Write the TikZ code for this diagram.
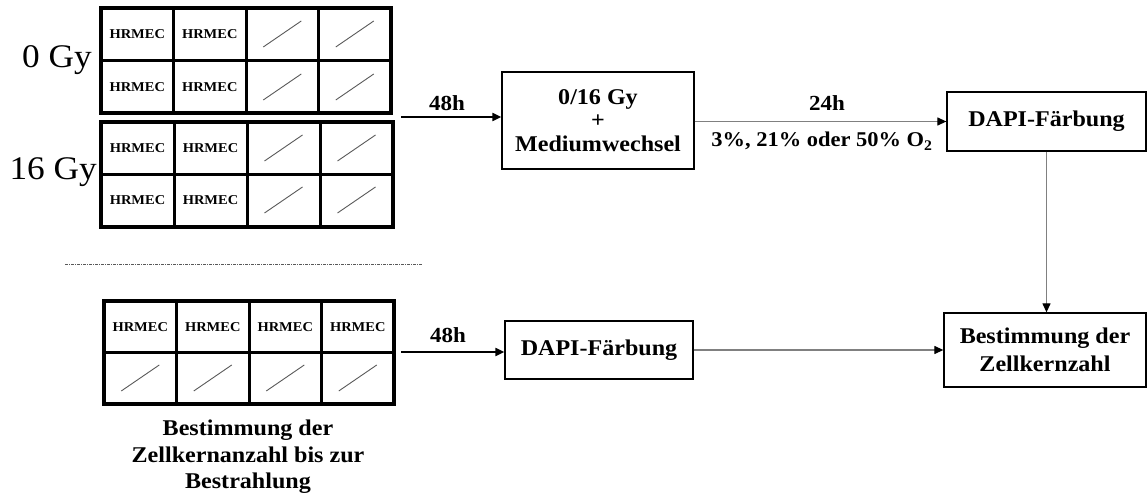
\documentclass[tikz,border=0pt]{standalone}
\usepackage{fontspec}
\setmainfont[FakeStretch=1.07]{Liberation Serif}
\usetikzlibrary{arrows.meta}

\tikzset{
  plateframe/.style={line width=3.6pt, line join=miter},
  platedivider/.style={line width=3pt},
  wellslash/.style={draw=black!65, line width=0.9pt},
  welltext/.style={font=\bfseries\fontsize{13.5}{15}\selectfont, inner sep=0pt},
  doselabel/.style={font=\fontsize{33}{36}\selectfont, anchor=base east, inner sep=0pt},
  stepbox/.style={draw, line width=1.3pt, align=center, inner sep=2pt,
    font=\bfseries\fontsize{22.5}{25}\selectfont},
  timelabel/.style={font=\bfseries\fontsize{21.5}{23}\selectfont, inner sep=0pt, anchor=base},
  mainarrow/.style={line width=2pt, -{Triangle[length=9pt,width=8pt]}},
  greyarrow/.style={draw=black!50, line width=1.2pt, -{Triangle[length=9pt,width=8pt,color=black]}},
}

% plate with four columns and two rows; #1..#4 = left, top, right, bottom
\newcommand\drawwellplate[4]{%
  \pgfmathsetmacro\pw{(#3-#1)/4}%
  \pgfmathsetmacro\rowmid{(#2+#4)/2}%
  \foreach \c in {1,2,3}{\draw[platedivider] ({#1+\c*\pw},#2) -- ({#1+\c*\pw},#4);}
  \draw[platedivider] (#1,\rowmid) -- (#3,\rowmid);
  \draw[plateframe] (#1,#2) rectangle (#3,#4);
}

\begin{document}
\begin{tikzpicture}[x=1pt,y=-1pt]
\useasboundingbox (0,0) rectangle (1148,497);

% ---- 0 Gy plate ----
\drawwellplate{101}{8}{391}{113}
\node[doselabel] (dose0) at (92,68) {0 Gy};
\foreach \c/\cx in {1/137.25,2/209.75}{
  \node[welltext] (p0a\c) at (\cx,34) {HRMEC};
  \node[welltext] (p0b\c) at (\cx,87) {HRMEC};
}
\foreach \cx in {282.25,354.75}{
  \draw[wellslash] (\cx-19,47) -- (\cx+19,21);
  \draw[wellslash] (\cx-19,100) -- (\cx+19,74);
}

% ---- 16 Gy plate ----
\drawwellplate{101}{122}{393}{227}
\node[doselabel] (dose16) at (97,180) {16 Gy};
\foreach \c/\cx in {1/137.5,2/210.5}{
  \node[welltext] (p16a\c) at (\cx,148) {HRMEC};
  \node[welltext] (p16b\c) at (\cx,200) {HRMEC};
}
\foreach \cx in {283.5,356.5}{
  \draw[wellslash] (\cx-19,161) -- (\cx+19,135);
  \draw[wellslash] (\cx-19,213) -- (\cx+19,187);
}

% ---- separator ----
\coordinate (sepL) at (65,264);
\coordinate (sepR) at (423,264);
\draw[black!65, line width=0.9pt, dash pattern=on 3pt off 1pt on 1pt off 1pt] (sepL) -- (sepR);

% ---- baseline plate ----
\drawwellplate{104}{301}{394}{404}
\foreach \c/\cx in {1/140.25,2/212.75,3/285.25,4/357.75}{
  \node[welltext] (pba\c) at (\cx,327) {HRMEC};
  \draw[wellslash] (\cx-19,391) -- (\cx+19,365);
}
\node[font=\bfseries\fontsize{22.5}{26.5}\selectfont, align=center, inner sep=0pt]
  (baseline) at (248,457) {Bestimmung der\\Zellkernanzahl bis zur\\Bestrahlung};

% ---- process boxes ----
\node[stepbox, minimum width=192pt, minimum height=97pt, font=\bfseries\fontsize{22.5}{23.5}\selectfont]
  (irr) at (598,120.5) {0/16 Gy\\+\\Mediumwechsel};
\node[stepbox, minimum width=199pt, minimum height=59pt] (dapi1) at (1046.5,121.5) {DAPI-Färbung};
\node[stepbox, minimum width=202pt, minimum height=74pt, font=\bfseries\fontsize{22.5}{28}\selectfont]
  (count) at (1045,350) {Bestimmung der\\Zellkernzahl};
\node[stepbox, minimum width=188pt, minimum height=58pt] (dapi2) at (599,350) {DAPI-Färbung};

% ---- connectors ----
\coordinate (start1) at (401,117);
\draw[mainarrow] (start1) -- (start1 -| irr.west);
\node[timelabel] (t48a) at (447,111) {48h};

\draw[greyarrow] (dapi1.west -| irr.east) -- (dapi1.west);
\node[timelabel] (t24) at (827,111) {24h};
\node[timelabel, font=\bfseries\fontsize{21}{23}\selectfont] (o2) at (822,147) {3\%, 21\% oder 50\% O\textsubscript{2}};

\draw[greyarrow] (dapi1.south) -- (dapi1.south |- count.north);

\coordinate (start2) at (401,352);
\draw[mainarrow] (start2) -- (start2 -| dapi2.west);
\node[timelabel] (t48b) at (448,342) {48h};

\draw[greyarrow] (dapi2.east) -- (dapi2.east -| count.west);
\end{tikzpicture}
\end{document}
